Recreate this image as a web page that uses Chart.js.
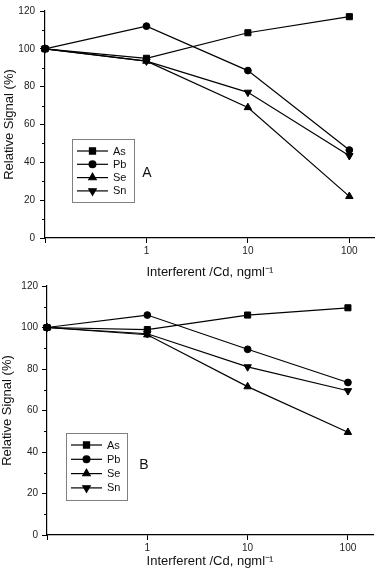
<!DOCTYPE html>
<html>
<head>
<meta charset="utf-8">
<script src="https://cdn.jsdelivr.net/npm/chart.js@4.4.0/dist/chart.umd.min.js"></script>
<style>
  html, body { margin: 0; padding: 0; background: #fff; }
  #wrap { position: relative; width: 380px; height: 570px; overflow: hidden; }
  #chartA { position: absolute; left: 0; top: 0; }
  #chartB { position: absolute; left: 0; top: 270px; }
</style>
</head>
<body>
<div id="wrap">
  <canvas id="chartA" width="380" height="285"></canvas>
  <canvas id="chartB" width="380" height="300"></canvas>
</div>
<script>
// x positions are evenly spaced decades: 0, 1, 10, 100 ng/ml
const xIndex = [0, 1, 2, 3];
const xTickLabels = ['', '1', '10', '100'];
const elements = ['As', 'Pb', 'Se', 'Sn'];

// panel A
const asA = [100, 95, 108.5, 117];
const pbA = [100, 112, 88.5, 46.5];
const seA = [100, 93.5, 69, 22];
const snA = [100, 93.5, 77, 43.5];

// panel B
const asB = [100, 99, 106, 109.5];
const pbB = [100, 106, 89.5, 73.5];
const seB = [100, 96.5, 71.5, 49.5];
const snB = [100, 97, 81, 69.5];

const FONT = '"Liberation Sans", Arial, sans-serif';

const markers = [
    { style: 'rect', radius: 4.3, rotation: 0 },
    { style: 'circle', radius: 3.4, rotation: 0 },
    { style: 'triangle', radius: 4.3, rotation: 0 },
    { style: 'triangle', radius: 4.3, rotation: 180 }
];

function series(values) {
    return values.map((v, i) => ({ x: xIndex[i], y: v }));
}

// short ticks between the labelled ones on the y axis
const minorTicks = {
    id: 'minorTicks',
    afterDraw(chart) {
        const y = chart.scales.y;
        const ctx = chart.ctx;
        const left = chart.chartArea.left;
        ctx.save();
        ctx.strokeStyle = '#000';
        ctx.lineWidth = 1;
        for (let v = 10; v < 120; v += 20) {
            const py = Math.round(y.getPixelForValue(v)) + 0.5;
            ctx.beginPath();
            ctx.moveTo(left - 3, py);
            ctx.lineTo(left, py);
            ctx.stroke();
        }
        ctx.restore();
    }
};

// boxed legend inside the plot + panel letter
const boxLegend = {
    id: 'boxLegend',
    afterDatasetsDraw(chart, args, opts) {
        const ctx = chart.ctx;
        ctx.save();
        ctx.strokeStyle = '#808080';
        ctx.lineWidth = 1;
        ctx.strokeRect(opts.x + 0.5, opts.y + 0.5, opts.w, opts.h);
        chart.data.datasets.forEach((ds, i) => {
            const yy = opts.y + opts.first + i * opts.step;
            ctx.strokeStyle = '#000';
            ctx.fillStyle = '#000';
            ctx.lineWidth = 1.2;
            ctx.beginPath();
            ctx.moveTo(opts.x + 5, yy);
            ctx.lineTo(opts.x + 36, yy);
            ctx.stroke();
            Chart.helpers.drawPoint(ctx, {
                pointStyle: ds.pointStyle,
                rotation: ds.rotation,
                radius: ds.pointRadius,
                borderWidth: 1
            }, opts.x + 20.5, yy);
            ctx.font = '11px ' + FONT;
            ctx.textBaseline = 'middle';
            ctx.textAlign = 'left';
            ctx.fillStyle = '#111';
            ctx.fillText(ds.label, opts.x + 41, yy + 0.5);
        });
        ctx.font = '14px ' + FONT;
        ctx.textAlign = 'center';
        ctx.textBaseline = 'middle';
        ctx.fillStyle = '#111';
        ctx.fillText(opts.letter, opts.letterX, opts.letterY);
        ctx.restore();
    }
};

function makeChart(canvasId, values, cfg) {
    const datasets = values.map((vals, i) => ({
        label: elements[i],
        data: series(vals),
        borderColor: '#000',
        backgroundColor: '#000',
        borderWidth: 1.2,
        pointStyle: markers[i].style,
        rotation: markers[i].rotation,
        pointRadius: markers[i].radius,
        pointBorderWidth: 1,
        tension: 0,
        clip: false
    }));

    return new Chart(document.getElementById(canvasId), {
        type: 'line',
        data: { datasets: datasets },
        plugins: [minorTicks, boxLegend],
        options: {
            responsive: false,
            animation: false,
            layout: { padding: cfg.padding },
            plugins: {
                legend: { display: false },
                tooltip: { enabled: false },
                boxLegend: cfg.legend
            },
            scales: {
                x: {
                    type: 'linear',
                    min: 0,
                    max: 3.25,
                    afterBuildTicks: s => { s.ticks = xIndex.map(v => ({ value: v })); },
                    afterFit: s => { s.height = cfg.xHeight; },
                    ticks: {
                        callback: (v, i) => xTickLabels[i],
                        font: { family: FONT, size: 10 },
                        color: '#222',
                        padding: 2,
                        maxRotation: 0,
                        autoSkip: false
                    },
                    grid: { drawOnChartArea: false, tickLength: 5, color: '#000', lineWidth: 1 },
                    border: { color: '#000', width: 1.2 },
                    title: {
                        display: true,
                        text: 'Interferent /Cd, ngml\u207B\u00B9',
                        font: { family: FONT, size: 13 },
                        color: '#111',
                        padding: { top: 0, bottom: cfg.xTitlePad }
                    }
                },
                y: {
                    min: 0,
                    max: 120,
                    afterFit: s => { s.width = cfg.yWidth; },
                    ticks: {
                        stepSize: 20,
                        font: { family: FONT, size: 10 },
                        color: '#222',
                        padding: cfg.yTickPad
                    },
                    grid: { drawOnChartArea: false, tickLength: 5, color: '#000', lineWidth: 1 },
                    border: { color: '#000', width: 1.2 },
                    title: {
                        display: true,
                        text: 'Relative Signal (%)',
                        font: { family: FONT, size: 13 },
                        color: '#111',
                        padding: { top: cfg.yTitlePad, bottom: 0 }
                    }
                }
            }
        }
    });
}

makeChart('chartA', [asA, pbA, seA, snA], {
    padding: { top: 6, right: 2, left: 0, bottom: 0 },
    xHeight: 47,
    yWidth: 45,
    xTitlePad: 5,
    yTitlePad: 2,
    yTickPad: 5,
    legend: { x: 72, y: 139, w: 62, h: 63, first: 12, step: 13.3, letter: 'A', letterX: 147, letterY: 173 }
});

makeChart('chartB', [asB, pbB, seB, snB], {
    padding: { top: 16, right: 7, left: 0, bottom: 0 },
    xHeight: 35,
    yWidth: 47,
    xTitlePad: 1,
    yTitlePad: 0,
    yTickPad: 4,
    legend: { x: 66, y: 163, w: 61, h: 67, first: 12, step: 14.3, letter: 'B', letterX: 144, letterY: 195 }
});
</script>
</body>
</html>
